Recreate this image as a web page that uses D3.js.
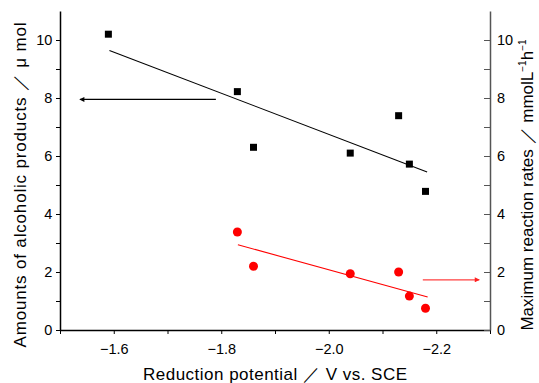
<!DOCTYPE html>
<html>
<head>
<meta charset="utf-8">
<script src="https://cdn.jsdelivr.net/npm/d3@7"></script>
<style>
  html, body { margin: 0; padding: 0; background: #fff; }
  svg { display: block; }
  text { font-family: "Liberation Sans", Arial, sans-serif; fill: #000; }
</style>
</head>
<body>
<svg id="chart" width="539" height="383"></svg>
<script>
// ---- data ----
const potentials = [-1.59, -1.83, -1.86, -2.04, -2.13, -2.15, -2.18];
const alcoholAmounts = [10.2, 8.22, 6.3, 6.1, 7.39, 5.72, 4.78];
const redPotentials = [-1.83, -1.86, -2.04, -2.13, -2.15, -2.18];
const reactionRates = [3.38, 2.2, 1.94, 2.0, 1.17, 0.75];
const blackFitX = [-1.592, -2.183];
const blackFitY = [9.64, 5.45];
const redFitX = [-1.831, -2.184];
const redFitY = [2.94, 1.14];
const blackArrowX = [-1.79, -1.537];
const blackArrowY = [7.95, 7.95];
const redArrowX = [-2.175, -2.28];
const redArrowY = [1.73, 1.73];
const xMajorTicks = [-1.6, -1.8, -2.0, -2.2];
const xMinorTicks = [-1.5, -1.7, -1.9, -2.1, -2.3];
const yMajorTicks = [0, 2, 4, 6, 8, 10];
const yMinorTicks = [1, 3, 5, 7, 9];

const svg = d3.select("#chart");
const L = 60, R = 490, T = 11, B = 330;
const x = d3.scaleLinear().domain([-1.5, -2.3]).range([L, R]);
const y = d3.scaleLinear().domain([0, 11]).range([B, T]);

const fmt = d => d3.format(".1f")(d).replace("-", "\u2212");
const FONT = "Liberation Sans, Arial, sans-serif";

// defs arrowheads
const defs = svg.append("defs");
function marker(id, color) {
  defs.append("marker").attr("id", id).attr("viewBox", "0 0 10 10")
    .attr("refX", 9).attr("refY", 5).attr("markerWidth", 8).attr("markerHeight", 5)
    .attr("markerUnits", "userSpaceOnUse").attr("orient", "auto")
    .append("path").attr("d", "M0,0 L10,5 L0,10 Z").attr("fill", color);
}
marker("ahBlack", "#000");
marker("ahRed", "#ff2020");

// x axis
const xAxis = svg.append("g").attr("transform", `translate(0,${B})`)
  .call(d3.axisBottom(x).tickValues(xMajorTicks).tickFormat(fmt).tickSize(4).tickSizeOuter(0));
xAxis.select(".domain").attr("stroke", "#000").attr("stroke-width", 1.3);
xAxis.selectAll(".tick line").attr("stroke", "#000");
xAxis.selectAll(".tick text").attr("font-size", 14.5).attr("dy", "1.15em")
  .style("font-family", FONT);
svg.append("g").attr("transform", `translate(0,${B})`)
  .call(d3.axisBottom(x).tickValues(xMinorTicks).tickFormat("").tickSize(4).tickSizeOuter(0))
  .call(g => g.select(".domain").remove());

// left y axis
const yL = svg.append("g").attr("transform", `translate(${L},0)`)
  .call(d3.axisLeft(y).tickValues(yMajorTicks).tickFormat(d3.format("d")).tickSize(4).tickSizeOuter(0));
yL.select(".domain").attr("stroke", "#000").attr("stroke-width", 1.5);
yL.selectAll(".tick text").attr("font-size", 14.5).attr("dx", "-0.05em")
  .style("font-family", FONT);
svg.append("g").attr("transform", `translate(${L},0)`)
  .call(d3.axisLeft(y).tickValues(yMinorTicks).tickFormat("").tickSize(4).tickSizeOuter(0))
  .call(g => g.select(".domain").remove());

// right y axis (ticks inward, labels outside)
const yR = svg.append("g").attr("transform", `translate(${R},0)`)
  .call(d3.axisLeft(y).tickValues(yMajorTicks).tickFormat(d3.format("d")).tickSize(6).tickSizeOuter(0));
yR.select(".domain").attr("stroke", "#555").attr("stroke-width", 1.5);
yR.selectAll(".tick line").attr("stroke", "#555");
yR.selectAll(".tick text").attr("font-size", 14.5).attr("x", 7).attr("text-anchor", "start")
  .style("font-family", FONT);
svg.append("g").attr("transform", `translate(${R},0)`)
  .call(d3.axisLeft(y).tickValues(yMinorTicks).tickFormat("").tickSize(6).tickSizeOuter(0))
  .call(g => { g.select(".domain").remove(); g.selectAll("line").attr("stroke", "#555"); });

// fit lines
const line = d3.line().x(d => x(d[0])).y(d => y(d[1]));
svg.append("path").datum(d3.zip(blackFitX, blackFitY)).attr("d", line)
  .attr("stroke", "#000").attr("stroke-width", 1.1).attr("fill", "none");
svg.append("path").datum(d3.zip(redFitX, redFitY)).attr("d", line)
  .attr("stroke", "#ff0000").attr("stroke-width", 1.1).attr("fill", "none");

// arrows
svg.append("path").datum(d3.zip(blackArrowX, blackArrowY)).attr("d", line)
  .attr("stroke", "#000").attr("stroke-width", 1.2).attr("fill", "none")
  .attr("marker-end", "url(#ahBlack)");
svg.append("path").datum(d3.zip(redArrowX, redArrowY)).attr("d", line)
  .attr("stroke", "#ff4040").attr("stroke-width", 1.2).attr("fill", "none")
  .attr("marker-end", "url(#ahRed)");

// black squares
svg.selectAll("rect.sq").data(d3.zip(potentials, alcoholAmounts)).join("rect")
  .attr("class", "sq")
  .attr("x", d => x(d[0]) - 3.5).attr("y", d => y(d[1]) - 3.5)
  .attr("width", 7).attr("height", 7).attr("fill", "#000");

// red circles
svg.selectAll("circle.rc").data(d3.zip(redPotentials, reactionRates)).join("circle")
  .attr("class", "rc")
  .attr("cx", d => x(d[0])).attr("cy", d => y(d[1])).attr("r", 4.5).attr("fill", "#ff0000");

// axis titles
svg.append("text").attr("x", 275).attr("y", 380).attr("text-anchor", "middle")
  .attr("font-size", 17).attr("textLength", 264).attr("lengthAdjust", "spacing")
  .text("Reduction potential \uFF0F V vs. SCE");

svg.append("text").attr("transform", "translate(26,185) rotate(-90)")
  .attr("text-anchor", "middle").attr("font-size", 17)
  .attr("textLength", 325).attr("lengthAdjust", "spacing")
  .text("Amounts of alcoholic products \uFF0F \u03BC mol");

const rt = svg.append("text").attr("transform", "translate(533,185) rotate(-90)")
  .attr("text-anchor", "middle").attr("font-size", 17);
rt.append("tspan").text("Maximum reaction rates \uFF0F mmolL");
rt.append("tspan").attr("dy", -7).attr("font-size", 10).text("\u22121");
rt.append("tspan").attr("dy", 7).text("h");
rt.append("tspan").attr("dy", -7).attr("font-size", 10).text("\u22121");
</script>
</body>
</html>
